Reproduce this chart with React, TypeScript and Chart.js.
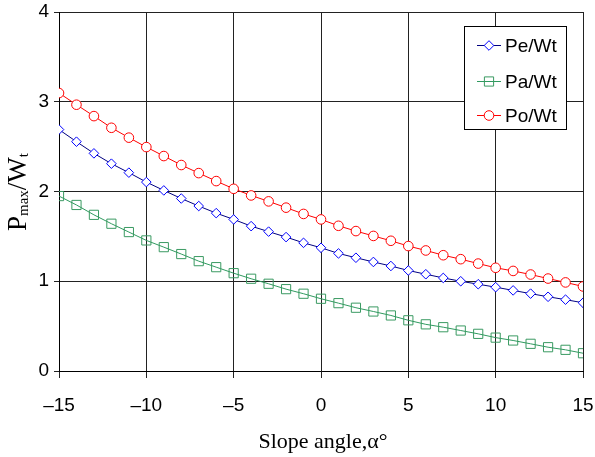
import React, { useEffect, useRef } from 'react';
import { Chart, registerables } from 'chart.js';

Chart.register(...registerables);

const slopeAngles = [-15, -14, -13, -12, -11, -10, -9, -8, -7, -6, -5, -4, -3, -2, -1, 0, 1, 2, 3, 4, 5, 6, 7, 8, 9, 10, 11, 12, 13, 14, 15];
const peWt = [2.69, 2.555, 2.425, 2.31, 2.21, 2.105, 2.012, 1.922, 1.838, 1.759, 1.689, 1.614, 1.553, 1.492, 1.428, 1.373, 1.31, 1.262, 1.215, 1.17, 1.12, 1.078, 1.037, 1.0, 0.967, 0.934, 0.898, 0.862, 0.827, 0.795, 0.76];
const paWt = [1.949, 1.85, 1.74, 1.641, 1.548, 1.455, 1.38, 1.303, 1.224, 1.157, 1.09, 1.028, 0.972, 0.912, 0.861, 0.805, 0.756, 0.705, 0.663, 0.619, 0.565, 0.52, 0.488, 0.451, 0.414, 0.372, 0.34, 0.303, 0.265, 0.236, 0.198];
const poWt = [3.097, 2.967, 2.84, 2.71, 2.6, 2.495, 2.395, 2.295, 2.205, 2.116, 2.03, 1.956, 1.89, 1.82, 1.75, 1.689, 1.618, 1.559, 1.505, 1.451, 1.392, 1.343, 1.29, 1.246, 1.197, 1.15, 1.115, 1.075, 1.03, 0.987, 0.942];
const seriesNames = ['Pe/Wt', 'Pa/Wt', 'Po/Wt'];
const xTitle = 'Slope angle,\u03B1\u00B0';
const yTitleParts = [
  { text: 'P', sub: false },
  { text: 'max', sub: true },
  { text: '/W', sub: false },
  { text: 't', sub: true },
];

const SANS = '"Liberation Sans", Arial, sans-serif';
const SERIF = '"Liberation Serif", "Times New Roman", serif';

function drawMarker(ctx: CanvasRenderingContext2D, style: string, x: number, y: number, r: number, stroke: string, fill: string) {
  ctx.save();
  ctx.beginPath();
  if (style === 'rectRot') {
    ctx.moveTo(x, y - r);
    ctx.lineTo(x + r, y);
    ctx.lineTo(x, y + r);
    ctx.lineTo(x - r, y);
    ctx.closePath();
  } else if (style === 'rect') {
    const s = r * Math.SQRT1_2;
    ctx.rect(x - s, y - s, 2 * s, 2 * s);
  } else {
    ctx.arc(x, y, r, 0, Math.PI * 2);
  }
  if (fill && fill !== 'transparent') {
    ctx.fillStyle = fill;
    ctx.fill();
  }
  ctx.strokeStyle = stroke;
  ctx.lineWidth = 1;
  ctx.stroke();
  ctx.restore();
}

const boxLegend = {
  id: 'boxLegend',
  afterDatasetsDraw(chart: any) {
    const ctx: CanvasRenderingContext2D = chart.ctx;
    const ds = chart.data.datasets;
    const bx = 464.5, by = 26.5, bw = 102, bh = 103;
    ctx.save();
    ctx.fillStyle = '#ffffff';
    ctx.fillRect(bx, by, bw, bh);
    ctx.strokeStyle = '#000000';
    ctx.lineWidth = 1;
    ctx.strokeRect(bx, by, bw, bh);
    const rowY = [45, 81, 115];
    ds.forEach((d: any, i: number) => {
      const y = rowY[i] + 0.5;
      ctx.strokeStyle = d.borderColor;
      ctx.lineWidth = 1;
      ctx.beginPath();
      ctx.moveTo(477, y);
      ctx.lineTo(501, y);
      ctx.stroke();
      drawMarker(ctx, d.pointStyle, 489, y, d.pointRadius, d.pointBorderColor, d.pointBackgroundColor);
      ctx.fillStyle = '#000';
      ctx.font = '19px ' + SANS;
      ctx.textBaseline = 'middle';
      ctx.textAlign = 'left';
      ctx.fillText(d.label, 505, y + 1);
    });
    ctx.restore();
  },
};

const axisTitles = {
  id: 'axisTitles',
  afterDraw(chart: any) {
    const ctx: CanvasRenderingContext2D = chart.ctx;
    ctx.save();
    ctx.fillStyle = '#000';
    ctx.font = '22px ' + SERIF;
    ctx.textAlign = 'center';
    ctx.textBaseline = 'alphabetic';
    ctx.fillText(xTitle, 323, 448);

    const big = '27px ' + SERIF;
    const small = '15px ' + SERIF;
    let total = 0;
    const widths = yTitleParts.map((p) => {
      ctx.font = p.sub ? small : big;
      const w = ctx.measureText(p.text).width;
      total += w;
      return w;
    });
    ctx.translate(26, 192);
    ctx.rotate(-Math.PI / 2);
    ctx.textAlign = 'left';
    let pos = -total / 2;
    yTitleParts.forEach((p, i) => {
      ctx.font = p.sub ? small : big;
      ctx.fillText(p.text, pos, p.sub ? 2 : 0);
      pos += widths[i];
    });
    ctx.restore();
  },
};

export default function App() {
  const ref = useRef<HTMLCanvasElement>(null);
  useEffect(() => {
    if (!ref.current) return;
    const mk = (ys: number[]) => slopeAngles.map((x, i) => ({ x, y: ys[i] }));
    const chart = new Chart(ref.current, {
      type: 'line',
      data: {
        datasets: [
          {
            label: seriesNames[0],
            data: mk(peWt),
            borderColor: '#000080',
            borderWidth: 1,
            pointStyle: 'rectRot',
            pointRadius: 4.8,
            pointBorderColor: '#0000ff',
            pointBackgroundColor: '#ffffff',
            pointBorderWidth: 1,
            tension: 0,
          },
          {
            label: seriesNames[1],
            data: mk(paWt),
            borderColor: '#2f9a5f',
            borderWidth: 1,
            pointStyle: 'rect',
            pointRadius: 6.5,
            pointBorderColor: '#3a9a62',
            pointBackgroundColor: 'transparent',
            pointBorderWidth: 1,
            tension: 0,
          },
          {
            label: seriesNames[2],
            data: mk(poWt),
            borderColor: '#ff0000',
            borderWidth: 1,
            pointStyle: 'circle',
            pointRadius: 4.8,
            pointBorderColor: '#ff0000',
            pointBackgroundColor: '#ffffff',
            pointBorderWidth: 1,
            tension: 0,
          },
        ],
      },
      options: {
        responsive: false,
        animation: false,
        layout: { padding: { left: 0, top: 12, right: 12, bottom: 0 } },
        plugins: { legend: { display: false }, tooltip: { enabled: false } },
        elements: { point: { hitRadius: 0 } },
        scales: {
          x: {
            type: 'linear',
            min: -15,
            max: 15,
            afterFit: (s: any) => { s.height = 86; s.paddingLeft = 0; s.paddingRight = 0; },
            ticks: {
              stepSize: 5,
              autoSkip: false,
              maxRotation: 0,
              color: '#000',
              padding: 16,
              font: { family: SANS, size: 19 },
              callback: (v: any) => String(v).replace('-', '\u2013'),
            },
            grid: { color: '#222', lineWidth: 1, tickLength: 7, drawTicks: true },
            border: { display: true, color: '#000' },
          },
          y: {
            type: 'linear',
            min: 0,
            max: 4,
            afterFit: (s: any) => { s.width = 59; s.paddingTop = 0; s.paddingBottom = 0; },
            ticks: {
              stepSize: 1,
              color: '#000',
              padding: 5,
              font: { family: SANS, size: 19 },
            },
            grid: { color: '#222', lineWidth: 1, tickLength: 5, drawTicks: true },
            border: { display: true, color: '#000' },
          },
        },
      },
      plugins: [boxLegend, axisTitles],
    });
    return () => chart.destroy();
  }, []);
  return (
    <div style={{ position: 'absolute', left: 0, top: 0, width: 595, height: 457, background: '#fff' }}>
      <canvas ref={ref} width={595} height={457} style={{ display: 'block' }} />
    </div>
  );
}
